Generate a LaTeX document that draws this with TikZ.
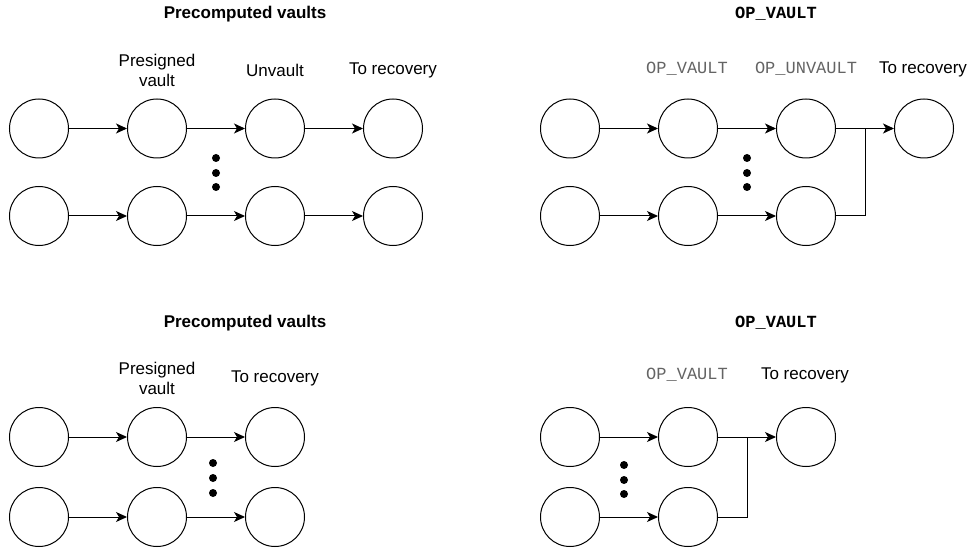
\documentclass[tikz,border=0pt]{standalone}
\usepackage{fontspec}
\setmainfont{Liberation Sans}
\setmonofont{Liberation Mono}
\usetikzlibrary{arrows.meta}
\usetikzlibrary{positioning}

\definecolor{labelgray}{RGB}{100,100,100}

\tikzset{
    tx/.style={circle, draw, line width=1pt, minimum size=59pt, inner sep=0pt},
    flow/.style={line width=1pt, -{Stealth[length=11pt, width=10pt, inset=3pt]}},
    link/.style={line width=1pt},
    title/.style={font=\fontsize{17}{20}\selectfont\bfseries, inner sep=0pt},
    label/.style={font=\fontsize{17}{20}\selectfont, align=center, inner sep=0pt},
    oplabel/.style={font=\fontsize{17}{20}\selectfont\ttfamily, text=labelgray, inner sep=0pt},
    dot/.style={fill=black}
}

\begin{document}
\begin{tikzpicture}[x=1pt, y=-1pt]
        \useasboundingbox (0,0) rectangle (972,548);

        % precomputed vaults, with unvault
        \node[title] (t1) at (245,14) {Precomputed vaults};
        \node[label] (l11) at (157,70) {Presigned\\vault};
        \node[label] (l12) at (275,70) {Unvault};
        \node[label] (l13) at (393,70) {To recovery};
        \node[tx] (pa1) at (39,128.5) {};
        \node[tx] (pa2) at (157,128.5) {};
        \node[tx] (pa3) at (275,128.5) {};
        \node[tx] (pa4) at (393,128.5) {};
        \node[tx] (pb1) at (39,216) {};
        \node[tx] (pb2) at (157,216) {};
        \node[tx] (pb3) at (275,216) {};
        \node[tx] (pb4) at (393,216) {};
        \draw [flow] (pa1) -- (pa2);
        \draw [flow] (pa2) -- (pa3);
        \draw [flow] (pa3) -- (pa4);
        \draw [flow] (pb1) -- (pb2);
        \draw [flow] (pb2) -- (pb3);
        \draw [flow] (pb3) -- (pb4);
        \fill[dot] (216,158) circle (4) (216,173) circle (4) (216,187) circle (4);

        % OP_VAULT, with unvault
        \node[title, font=\fontsize{17}{20}\selectfont\ttfamily\bfseries] (t2) at (776,14) {OP\_VAULT};
        \node[oplabel] (l21) at (687,69) {OP\_VAULT};
        \node[oplabel] (l22) at (806,69) {OP\_UNVAULT};
        \node[label] (l23) at (923,69) {To recovery};
        \node[tx] (oa1) at (570,128.5) {};
        \node[tx] (oa2) at (688,128.5) {};
        \node[tx] (oa3) at (806,128.5) {};
        \node[tx] (oa4) at (924,128.5) {};
        \node[tx] (ob1) at (570,216) {};
        \node[tx] (ob2) at (688,216) {};
        \node[tx] (ob3) at (806,216) {};
        \coordinate (j2) at (865,128.5);
        \draw [flow] (oa1) -- (oa2);
        \draw [flow] (oa2) -- (oa3);
        \draw [flow] (oa3) -- (oa4);
        \draw [flow] (ob1) -- (ob2);
        \draw [flow] (ob2) -- (ob3);
        \draw [link] (ob3) -| (j2);
        \fill[dot] (747,158) circle (4) (747,173) circle (4) (747,187) circle (4);

        % precomputed vaults, no unvault
        \node[title] (t3) at (245,323) {Precomputed vaults};
        \node[label] (l31) at (157,378) {Presigned\\vault};
        \node[label] (l32) at (275,378) {To recovery};
        \node[tx] (qa1) at (39,437) {};
        \node[tx] (qa2) at (157,437) {};
        \node[tx] (qa3) at (275,437) {};
        \node[tx] (qb1) at (39,517) {};
        \node[tx] (qb2) at (157,517) {};
        \node[tx] (qb3) at (275,517) {};
        \draw [flow] (qa1) -- (qa2);
        \draw [flow] (qa2) -- (qa3);
        \draw [flow] (qb1) -- (qb2);
        \draw [flow] (qb2) -- (qb3);
        \fill[dot] (213,463) circle (4) (213,478) circle (4) (213,493) circle (4);

        % OP_VAULT, no unvault
        \node[title, font=\fontsize{17}{20}\selectfont\ttfamily\bfseries] (t4) at (776,323) {OP\_VAULT};
        \node[oplabel] (l41) at (687,375) {OP\_VAULT};
        \node[label] (l42) at (805,375) {To recovery};
        \node[tx] (ra1) at (570,437) {};
        \node[tx] (ra2) at (688,437) {};
        \node[tx] (ra3) at (806,437) {};
        \node[tx] (rb1) at (570,517) {};
        \node[tx] (rb2) at (688,517) {};
        \coordinate (j4) at (747,437);
        \draw [flow] (ra1) -- (ra2);
        \draw [flow] (ra2) -- (ra3);
        \draw [flow] (rb1) -- (rb2);
        \draw [link] (rb2) -| (j4);
        \fill[dot] (624,465) circle (4) (624,480) circle (4) (624,494) circle (4);
\end{tikzpicture}
\end{document}
